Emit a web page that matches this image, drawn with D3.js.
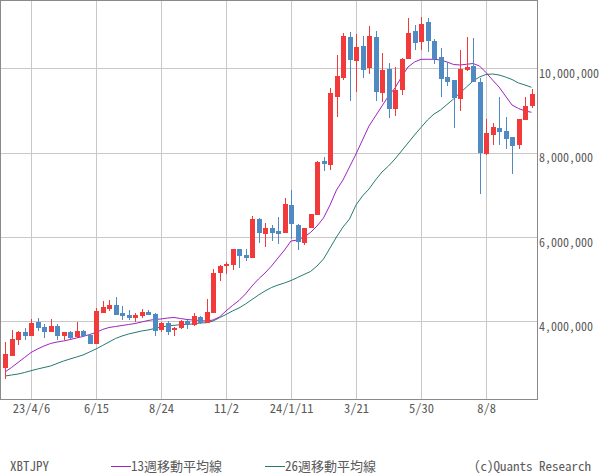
<!DOCTYPE html>
<html><head><meta charset="utf-8">
<script src="https://cdn.jsdelivr.net/npm/d3@7"></script>
<style>
body{margin:0;background:#fff}
svg{display:block}
text{font-family:"Noto Sans Mono CJK JP","Noto Sans CJK JP","DejaVu Sans Mono",monospace;fill:#5a5a5a}
</style>
</head><body><svg id="c" width="600" height="475"></svg>
<script>
// ---- data (weekly candles, XBTJPY, yen) ----
const startDate = "2023-03-09";
const open = [2918000,3198000,3571000,3760000,3665000,3998000,3879000,3760000,3903000,3672000,3760000,3642000,3784000,3689000,3483000,4218000,4313000,4401000,4211000,4164000,4093000,4140000,4235000,4187000,3808000,3974000,3808000,3855000,4021000,3927000,4116000,3974000,4218000,5160000,5333000,5350000,5730000,5587000,5516000,6441000,6085000,6228000,6157000,6109000,6773000,6299000,5872000,6228000,6536000,7817000,7730000,9343000,9786000,10759000,10190000,10546000,10024000,10759000,9438000,10000000,9058000,9502000,10237000,10902000,10641000,11115000,10664000,10285000,9810000,9739000,9288000,9976000,10071000,9692000,7983000,8434000,8600000,8529000,8387000,8197000,8790000,9122000];
const high = [3530000,3808000,3784000,3863000,4069000,4093000,3950000,4069000,3950000,3760000,3784000,3998000,3808000,3720000,4337000,4503000,4520000,4598000,4384000,4282000,4211000,4306000,4282000,4211000,3991000,4021000,3879000,4045000,4045000,4211000,4140000,4543000,5255000,5350000,5421000,5730000,5741000,5730000,6512000,6465000,6346000,6299000,6489000,6940000,7129000,6323000,6228000,6560000,7817000,7912000,9549000,10332000,10854000,10878000,10830000,10783000,11020000,10902000,10380000,10142000,10047000,10261000,11210000,11044000,11234000,11210000,10712000,10498000,10166000,9739000,10451000,10759000,10735000,9786000,8814000,8719000,9336000,8861000,8387000,8814000,9336000,9526000];
const low = [2657000,3191000,3452000,3571000,3665000,3784000,3625000,3760000,3571000,3571000,3606000,3618000,3642000,3476000,3476000,4218000,4266000,4164000,4045000,4045000,4005000,4093000,4164000,3665000,3767000,3689000,3665000,3832000,3832000,3903000,3950000,3974000,4204000,4978000,5137000,5231000,5279000,5445000,5516000,5872000,5777000,5919000,5848000,6109000,5967000,5706000,5824000,6228000,6536000,7587000,7611000,8868000,9739000,9248000,9461000,9786000,9881000,9248000,9224000,8826000,8885000,9383000,10237000,10451000,10451000,10403000,10119000,9336000,9597000,8607000,9004000,9953000,9692000,7034000,7960000,8197000,8197000,8102000,7509000,8102000,8790000,9075000];
const close = [3239000,3594000,3760000,3672000,3974000,3863000,3760000,3903000,3672000,3760000,3625000,3784000,3665000,3483000,4259000,4361000,4408000,4164000,4140000,4093000,4164000,4235000,4164000,3784000,3974000,3760000,3855000,4021000,3927000,4140000,3974000,4235000,5160000,5326000,5374000,5730000,5563000,5516000,6441000,6109000,6228000,6109000,6085000,6797000,6323000,5896000,6228000,6560000,7794000,7753000,9431000,9834000,10783000,10214000,10522000,9976000,10783000,9461000,9976000,9058000,9502000,10237000,10854000,10617000,11068000,10664000,10237000,9763000,9692000,9312000,10000000,10047000,9692000,8007000,8482000,8624000,8505000,8339000,8180000,8814000,9122000,9407000];
const ma13 = [2811000,2918000,3037000,3155000,3274000,3357000,3428000,3488000,3523000,3547000,3582000,3618000,3654000,3701000,3748000,3820000,3867000,3891000,3915000,3938000,3962000,3997000,4033000,4057000,4069000,4092000,4104000,4081000,4057000,4045000,4033000,4021000,4045000,4116000,4259000,4389000,4508000,4662000,4852000,5018000,5160000,5326000,5516000,5706000,5919000,5943000,6014000,6121000,6275000,6465000,6773000,7129000,7367000,7675000,7983000,8316000,8648000,8885000,9122000,9359000,9549000,9810000,10047000,10166000,10230000,10230000,10230000,10214000,10166000,10107000,10095000,10112000,10130000,10071000,9917000,9739000,9573000,9359000,9146000,9063000,9004000,8973000];
const ma26 = [2716000,2740000,2763000,2799000,2842000,2882000,2918000,2954000,3013000,3072000,3120000,3167000,3215000,3286000,3357000,3440000,3523000,3606000,3665000,3713000,3748000,3784000,3808000,3843000,3879000,3903000,3919000,3934000,3943000,3950000,3974000,3981000,4021000,4100000,4176000,4259000,4330000,4425000,4531000,4638000,4733000,4816000,4875000,4923000,4982000,5053000,5125000,5196000,5326000,5492000,5753000,6014000,6251000,6441000,6773000,6987000,7153000,7367000,7556000,7699000,7865000,8055000,8244000,8434000,8612000,8790000,8932000,9027000,9158000,9288000,9431000,9573000,9715000,9810000,9870000,9881000,9858000,9810000,9751000,9668000,9620000,9566000];
const tickLabels = ["23/4/6","6/15","8/24","11/2","24/1/11","3/21","5/30","8/8"];
const tickDates = ["2023-04-06","2023-06-15","2023-08-24","2023-11-02","2024-01-11","2024-03-21","2024-05-30","2024-08-08"];
const yTicks = [4000000,6000000,8000000,10000000];
const seriesName = "XBTJPY";
const legendLabels = ["13週移動平均線","26週移動平均線"];
const credit = "(c)Quants Research";

const colors = {up:"#f33a3a", down:"#4f8bc2", ma13:"#9e24c0", ma26:"#257a70", grid:"#c8c8c8", frame:"#8a8a8a"};

// ---- build ----
const parse = d3.utcParse("%Y-%m-%d");
const t0 = parse(startDate);
const DAY = 864e5;
const dates = open.map((_, i) => new Date(t0.getTime() + 7 * i * DAY));
const data = dates.map((d, i) => ({date: d, o: open[i], h: high[i], l: low[i], c: close[i], m13: ma13[i], m26: ma26[i]}));

const L = 1, R = 537, T = 1, B = 399;
const x = d3.scaleUtc()
  .domain([new Date(t0.getTime() - 4.31 * DAY), new Date(t0.getTime() + 572.92 * DAY)])
  .range([L, R]);
const y = d3.scaleLinear().domain([2171000, 11613000]).range([B, T]);

const svg = d3.select("#c");
svg.append("rect").attr("width", 600).attr("height", 475).attr("fill", "#fff");

// gridlines
const gx = svg.append("g").attr("transform", `translate(0.5,${B})`)
  .call(d3.axisBottom(x).tickValues(tickDates.map(parse)).tickSize(-(B - T)).tickFormat(""));
const gy = svg.append("g").attr("transform", `translate(${L},0.5)`)
  .call(d3.axisLeft(y).tickValues(yTicks).tickSize(-(R - L)).tickFormat(""));
[gx, gy].forEach(g => {
  g.select(".domain").remove();
  g.selectAll(".tick line").attr("stroke", colors.grid).attr("shape-rendering", "crispEdges");
});
gx.selectAll(".tick").attr("transform", d => `translate(${Math.floor(x(d))},0)`);
gy.selectAll(".tick").attr("transform", d => `translate(0,${Math.floor(y(d))})`);

// moving averages
const line = k => d3.line().x(d => x(d.date)).y(d => y(d[k]));
svg.append("path").datum(data).attr("d", line("m26")).attr("fill", "none").attr("stroke", colors.ma26).attr("stroke-width", 1);
svg.append("path").datum(data).attr("d", line("m13")).attr("fill", "none").attr("stroke", colors.ma13).attr("stroke-width", 1);

// candles
const cg = svg.append("g").attr("shape-rendering", "crispEdges");
const cand = cg.selectAll("g").data(data).join("g");
cand.append("line")
  .attr("x1", d => Math.round(x(d.date)) + 0.5).attr("x2", d => Math.round(x(d.date)) + 0.5)
  .attr("y1", d => y(d.h)).attr("y2", d => y(d.l))
  .attr("stroke", d => d.c >= d.o ? colors.up : colors.down);
cand.append("rect")
  .attr("x", d => Math.round(x(d.date)) - 2).attr("width", 5)
  .attr("y", d => y(Math.max(d.o, d.c)))
  .attr("height", d => Math.max(1, y(Math.min(d.o, d.c)) - y(Math.max(d.o, d.c))))
  .attr("fill", d => d.c >= d.o ? colors.up : colors.down);

// frame
svg.append("rect").attr("x", 0.5).attr("y", 0.5).attr("width", R - 0.5).attr("height", B - 0.5)
  .attr("fill", "none").attr("stroke", colors.frame).attr("shape-rendering", "crispEdges");

// y axis labels (right)
const ya = svg.append("g").attr("transform", `translate(${R},0)`)
  .call(d3.axisRight(y).tickValues(yTicks).tickSize(0).tickPadding(2).tickFormat(d3.format(",")));
ya.select(".domain").remove();
ya.selectAll("text").attr("dy", null).attr("y", 8.5).style("font-size", "12px").attr("fill", "#5a5a5a");

// x axis labels
const xa = svg.append("g").attr("transform", `translate(0,${B})`)
  .call(d3.axisBottom(x).tickValues(tickDates.map(parse)).tickSize(0).tickFormat((d, i) => tickLabels[i]));
xa.select(".domain").remove();
xa.selectAll("text").attr("dy", null).attr("y", 13.5).style("font-size", "12.5px").attr("fill", "#5a5a5a");

// legend
const lg = svg.append("g").style("font-size", "13px");
lg.append("text").attr("x", 10).attr("y", 470.5).text(seriesName);
[[111, colors.ma13, legendLabels[0]], [265, colors.ma26, legendLabels[1]]].forEach(([lx, col, lab]) => {
  lg.append("line").attr("x1", lx).attr("x2", lx + 20).attr("y1", 466.5).attr("y2", 466.5).attr("stroke", col).attr("shape-rendering", "crispEdges");
  lg.append("text").attr("x", lx + 20).attr("y", 470.5).text(lab);
});
lg.append("text").attr("x", 591).attr("y", 470.5).attr("text-anchor", "end").text(credit);
</script>
</body></html>
